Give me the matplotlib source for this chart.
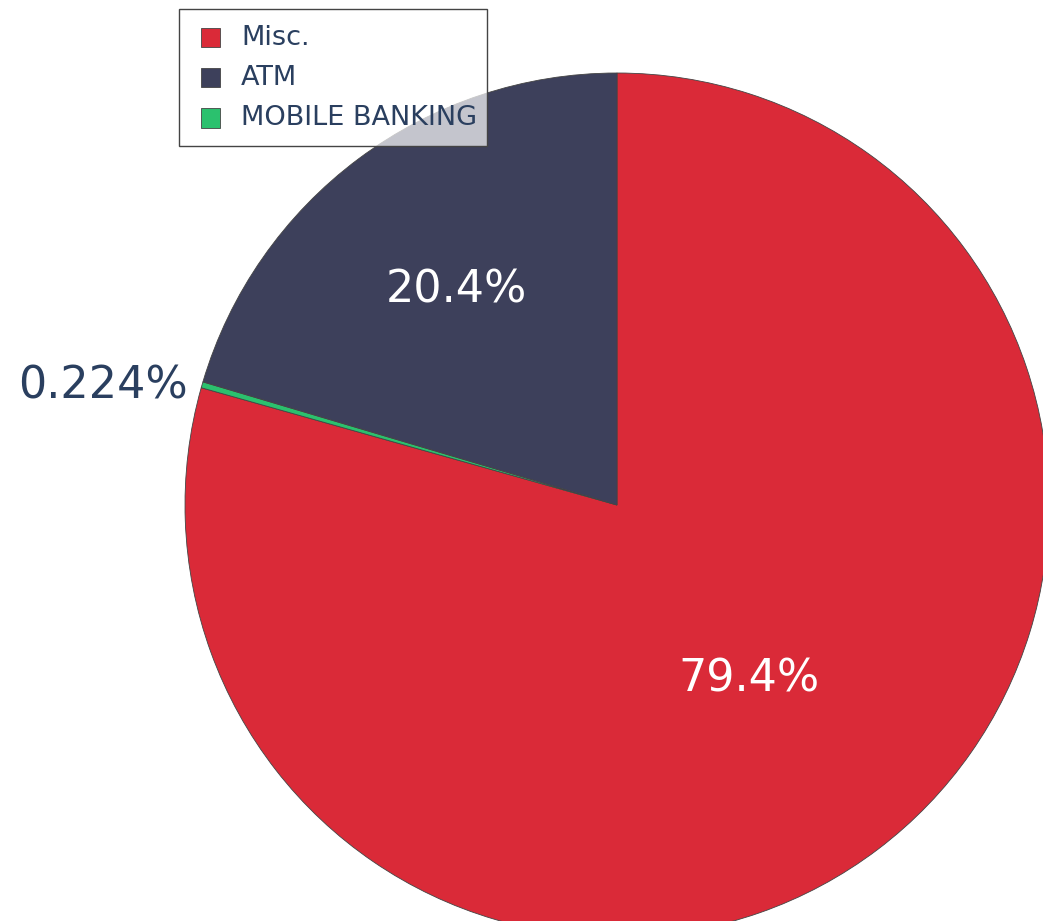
import numpy as np
import matplotlib.pyplot as plt
from matplotlib.patches import Rectangle

# Slice data (drawing order: clockwise from 12 o'clock)
labels = ["Misc.", "MOBILE BANKING", "ATM"]
values = [79.376, 0.224, 20.4]
colors = ["#DA2A38", "#2BC16E", "#3D405B"]

# legend order
legend_order = ["Misc.", "ATM", "MOBILE BANKING"]

W, H = 1043, 921
cx, cy, R = 617, 505, 432  # pie centre / radius in pixels

fig = plt.figure(figsize=(W / 100, H / 100), dpi=100)
ax = fig.add_axes([0, 0, 1, 1])

wedges, _ = ax.pie(
    values,
    colors=colors,
    startangle=90,
    counterclock=False,
    radius=1.0,
    wedgeprops=dict(edgecolor="#444444", linewidth=0.6),
)

ax.set_xlim(-cx / R, (W - cx) / R)
ax.set_ylim(-(H - cy) / R, cy / R)
ax.set_aspect("equal")
ax.axis("off")

# percentage labels
total = sum(values)
label_dist = {"Misc.": 0.505, "ATM": 0.62}
for w, lab, v in zip(wedges, labels, values):
    pct = 100 * v / total
    txt = f"{pct:.3g}%"
    mid = np.deg2rad((w.theta1 + w.theta2) / 2)
    if lab in label_dist:
        d = label_dist[lab]
        ax.text(d * np.cos(mid), d * np.sin(mid), txt, color="white",
                fontsize=32, ha="center", va="center")
    else:
        d = 1.035
        ax.text(d * np.cos(mid), d * np.sin(mid) - 5 / R, txt,
                color="#2a3f5f", fontsize=32, ha="right", va="center")

# legend box (drawn in figure pixels)
def fx(px):
    return px / W


def fy(py):
    return 1 - py / H


fig.add_artist(Rectangle((fx(179), fy(146)), fx(487) - fx(179),
                         fy(9) - fy(146), transform=fig.transFigure,
                         facecolor=(1, 1, 1, 0.7), edgecolor="#444444",
                         linewidth=1.0, zorder=5))
for i, name in enumerate(legend_order):
    yc = 38 + 40 * i
    col = colors[labels.index(name)]
    fig.add_artist(Rectangle((fx(201), fy(yc + 9.5)), fx(220) - fx(201),
                             fy(yc - 9.5) - fy(yc + 9.5),
                             transform=fig.transFigure, facecolor=col,
                             edgecolor="#444444", linewidth=0.6, zorder=6))
    fig.text(fx(241), fy(yc), name, color="#2a3f5f", fontsize=19.5,
             ha="left", va="center", zorder=6)

fig.savefig("out.png", dpi=100)
